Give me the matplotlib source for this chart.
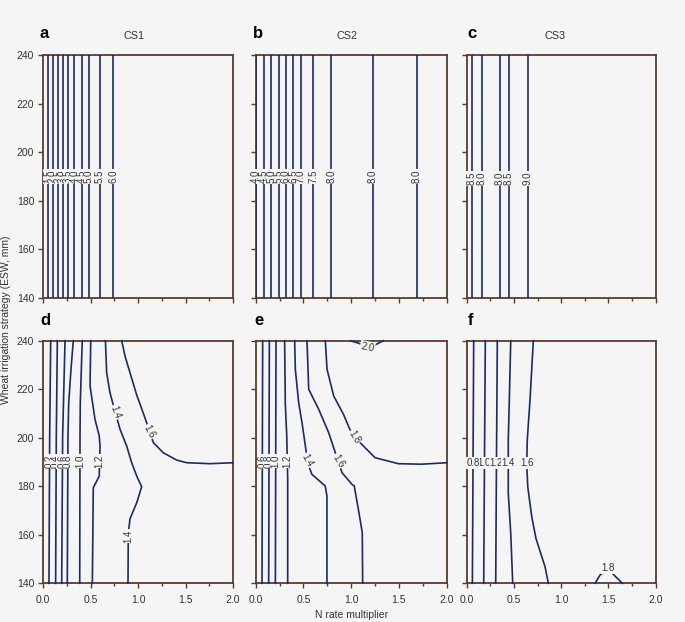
import matplotlib
matplotlib.use("Agg")
import matplotlib.pyplot as plt
from matplotlib.ticker import MultipleLocator

plt.rcParams['font.family'] = ['Liberation Sans', 'DejaVu Sans']

# ---------------- data ----------------
N_LIM = [0.0, 2.0]
ESW_LIM = [140, 240]
X_TICKS = [0.0, 0.5, 1.0, 1.5, 2.0]
Y_TICKS = [140, 160, 180, 200, 220, 240]
PANEL_LETTERS = ['a', 'b', 'c', 'd', 'e', 'f']
COL_TITLES = ['CS1', 'CS2', 'CS3']
X_LABEL = 'N rate multiplier'
Y_LABEL = 'Wheat irrigation strategy (ESW, mm)'

# top row: vertical contours (N rate position, constant over ESW)
CS1_LEVELS = [1.5, 2.0, 2.5, 3.0, 3.5, 4.0, 4.5, 5.0, 5.5, 6.0]
CS1_N = [0.053, 0.099, 0.158, 0.204, 0.257, 0.327, 0.404, 0.478, 0.598, 0.738]
CS2_LEVELS = [4.0, 4.5, 5.0, 5.5, 6.0, 6.5, 7.0, 7.5, 8.0, 8.0, 8.0]
CS2_N = [0.003, 0.087, 0.164, 0.244, 0.317, 0.394, 0.474, 0.603, 0.792, 1.225, 1.686]
CS3_LEVELS = [8.5, 8.0, 8.0, 8.5, 9.0]
CS3_N = [0.053, 0.158, 0.352, 0.448, 0.645]

# bottom row: contour polylines (N rate, ESW)
D_LEVELS = [0.2, 0.4, 0.6, 0.8, 1.0, 1.2, 1.4, 1.6]
D_N = [
    [0.078, 0.067, 0.060],
    [0.148, 0.137, 0.130],
    [0.229, 0.204, 0.194],
    [0.316, 0.292, 0.268, 0.260, 0.253],
    [0.411, 0.401, 0.390, 0.387, 0.384],
    [0.500, 0.493, 0.545, 0.590, 0.598, 0.590, 0.527, 0.517],
    [0.655, 0.668, 0.703, 0.745, 0.809, 0.879, 0.932, 0.985, 1.037, 0.985, 0.914, 0.896, 0.893],
    [0.827, 0.861, 0.914, 0.985, 1.071, 1.160, 1.265, 1.406, 1.512, 1.758, 2.000],
]
D_ESW = [
    [240, 200, 140],
    [240, 200, 140],
    [240, 200.7, 140],
    [240, 228.2, 214.4, 200.7, 140],
    [240, 228.2, 214.4, 200.7, 140],
    [240, 221.3, 207.6, 200.7, 196.6, 184.2, 179.4, 140],
    [240, 226.8, 218.6, 212.4, 203.5, 196.6, 189.7, 184.2, 179.8, 173.2, 166.6, 160.6, 140],
    [240, 233.7, 226.8, 217.6, 208.3, 198.0, 193.8, 190.8, 189.7, 189.3, 189.7],
]

E_LEVELS = [0.6, 0.8, 1.0, 1.2, 1.4, 1.6, 1.8, 2.0]
E_N = [
    [0.073, 0.070, 0.066],
    [0.143, 0.140, 0.136],
    [0.213, 0.210, 0.206],
    [0.303, 0.310, 0.325, 0.335, 0.335],
    [0.408, 0.415, 0.450, 0.485, 0.520, 0.545, 0.589, 0.728, 0.746, 0.746],
    [0.537, 0.548, 0.555, 0.660, 0.764, 0.834, 0.904, 1.008, 1.032, 1.075, 1.116, 1.120],
    [0.729, 0.747, 0.817, 0.921, 0.980, 1.040, 1.092, 1.249, 1.493, 1.738, 2.000],
    [0.990, 1.082, 1.170, 1.267, 1.336],
]
E_ESW = [
    [240, 200, 140],
    [240, 200, 140],
    [240, 200, 140],
    [240, 214, 201, 183, 140],
    [240, 228.2, 214.4, 206.2, 196.6, 189.5, 184.9, 180.1, 176, 140],
    [240, 228.2, 220, 211.7, 202.1, 193.8, 185.6, 180.8, 180.1, 170.5, 160.9, 140],
    [240, 228.2, 217.2, 209.5, 204, 199.4, 198, 191.8, 189.3, 189.1, 189.7],
    [240, 238.9, 237.5, 238.6, 240],
]

F_LEVELS = [0.8, 1.0, 1.2, 1.4, 1.6, 1.8]
F_N = [
    [0.074, 0.067, 0.060],
    [0.197, 0.188, 0.180],
    [0.324, 0.315, 0.307],
    [0.466, 0.451, 0.440, 0.440, 0.466, 0.487],
    [0.705, 0.670, 0.641, 0.635, 0.646, 0.688, 0.733, 0.829, 0.864],
    [1.358, 1.411, 1.499, 1.569, 1.647],
]
F_ESW = [
    [240, 190, 140],
    [240, 190, 140],
    [240, 190, 140],
    [240, 215.6, 199.1, 177.1, 160.6, 140],
    [240, 215.6, 199.1, 189.5, 179.8, 167.5, 158.5, 146.8, 140],
    [140, 143.4, 145.8, 143, 140],
]

# ---------------- style / layout ----------------
BG = '#f5f5f5'
LINE = '#1c2a68'
SPINE = '#5b3b2c'
TXT = '#333333'
W, H = 685, 622

# axes boxes in pixels (x0, y0, x1, y1), y from top
BOXES = [
    (43.3, 55, 233, 297.7), (255.7, 55, 446.7, 297.7), (466.7, 55, 655.7, 297.7),
    (43.3, 340.7, 233, 583.3), (255.7, 340.7, 446.7, 583.3), (466.7, 340.7, 655.7, 583.3),
]
LETTER_POS = [(40, 38.5), (253, 38.5), (467, 38.5), (40, 325), (254, 325), (468, 325)]
TITLE_POS = [(134, 39.3), (347.3, 39.3), (555, 39.3)]

fig = plt.figure(figsize=(W / 100, H / 100), dpi=100, facecolor=BG)

def fx(px):
    return px / W

def fy(py):
    return 1 - py / H

axes = []
for i, (x0, y0, x1, y1) in enumerate(BOXES):
    ax = fig.add_axes([fx(x0), fy(y1), (x1 - x0) / W, (y1 - y0) / H])
    ax.set_facecolor(BG)
    ax.set_xlim(N_LIM)
    ax.set_ylim(ESW_LIM)
    ax.set_xticks(X_TICKS)
    ax.set_yticks(Y_TICKS)
    ax.xaxis.set_minor_locator(MultipleLocator(0.25))
    for s in ax.spines.values():
        s.set_color(SPINE)
        s.set_linewidth(1.3)
    ax.tick_params(which='major', direction='out', length=3.5, width=1.0,
                   color=SPINE, labelcolor=TXT, labelsize=7.5, pad=3)
    ax.tick_params(which='minor', direction='out', length=2.5, width=1.0, color=SPINE)
    ax.tick_params(axis='x', pad=5)
    if i < 3:
        ax.tick_params(axis='x', labelbottom=False)
    else:
        ax.set_xticklabels([f'{v:.1f}' for v in X_TICKS])
    if i % 3 != 0:
        ax.tick_params(axis='y', labelleft=False)
    axes.append(ax)

LBL_KW = dict(fontsize=7, color=TXT, ha='center', va='center', zorder=5, clip_on=False,
              bbox=dict(boxstyle='square,pad=0.08', fc=BG, ec='none'))

def draw_label(ax, text, x, y, rot, z=5):
    kw = dict(LBL_KW)
    kw['zorder'] = z
    ax.text(x, y, text, rotation=rot, rotation_mode='anchor', **kw)

# top row
for ax, levels, ns, ylab in [(axes[0], CS1_LEVELS, CS1_N, 190.0),
                             (axes[1], CS2_LEVELS, CS2_N, 190.0),
                             (axes[2], CS3_LEVELS, CS3_N, 189.3)]:
    for lev, n in zip(levels, ns):
        ax.plot([n, n], ESW_LIM, color=LINE, lw=1.2, zorder=3)
    for k, (lev, n) in enumerate(zip(levels, ns)):
        draw_label(ax, f'{lev:.1f}', n, ylab, 90, z=5 + k * 0.01)

# bottom row lines
for ax, levels, xs, ys in [(axes[3], D_LEVELS, D_N, D_ESW),
                           (axes[4], E_LEVELS, E_N, E_ESW),
                           (axes[5], F_LEVELS, F_N, F_ESW)]:
    for lev, x, y in zip(levels, xs, ys):
        ax.plot(x, y, color=LINE, lw=1.2, zorder=3, clip_on=False, solid_joinstyle='miter')

# bottom row labels (text, x, y, rotation)
D_LABELS = [('0.2', 0.067, 190.4, 90), ('0.4', 0.135, 190.4, 90), ('0.6', 0.200, 190.4, 90),
            ('0.8', 0.258, 190.4, 90), ('1.0', 0.386, 190.4, 90), ('1.2', 0.594, 190.4, 90),
            ('1.4', 0.760, 210.5, -70), ('1.4', 0.895, 159.5, 90), ('1.6', 1.120, 202.5, -62)]
E_LABELS = [('0.6', 0.070, 190.4, 90), ('0.8', 0.140, 190.4, 90), ('1.0', 0.210, 190.4, 90),
            ('1.2', 0.332, 190.4, 90), ('1.4', 0.535, 190.5, -62), ('1.6', 0.862, 190.4, -58),
            ('1.8', 1.035, 200.3, -58), ('2.0', 1.170, 237.4, -12)]
F_LABELS = [('1.0', 0.188, 189.7, 0), ('0.8', 0.067, 189.7, 0), ('1.2', 0.315, 189.7, 0),
            ('1.4', 0.442, 189.7, 0), ('1.6', 0.636, 189.7, 0), ('1.8', 1.499, 146.2, 0)]

for ax, labels in [(axes[3], D_LABELS), (axes[4], E_LABELS), (axes[5], F_LABELS)]:
    for k, (t, x, y, r) in enumerate(labels):
        draw_label(ax, t, x, y, r, z=5 + k * 0.01)

# panel letters and titles
for letter, (px, py) in zip(PANEL_LETTERS, LETTER_POS):
    fig.text(fx(px), fy(py), letter, fontsize=12, fontweight='bold', color='black',
             ha='left', va='baseline')
for title, (px, py) in zip(COL_TITLES, TITLE_POS):
    fig.text(fx(px), fy(py), title, fontsize=7.8, color=TXT, ha='center', va='baseline')

fig.text(fx(351.5), fy(615), X_LABEL, fontsize=7.5, color=TXT, ha='center', va='center')
fig.text(fx(6), fy(320), Y_LABEL, fontsize=7.5, color=TXT, ha='center', va='center',
         rotation=90)

fig.savefig('out.png', dpi=100, facecolor=BG)
